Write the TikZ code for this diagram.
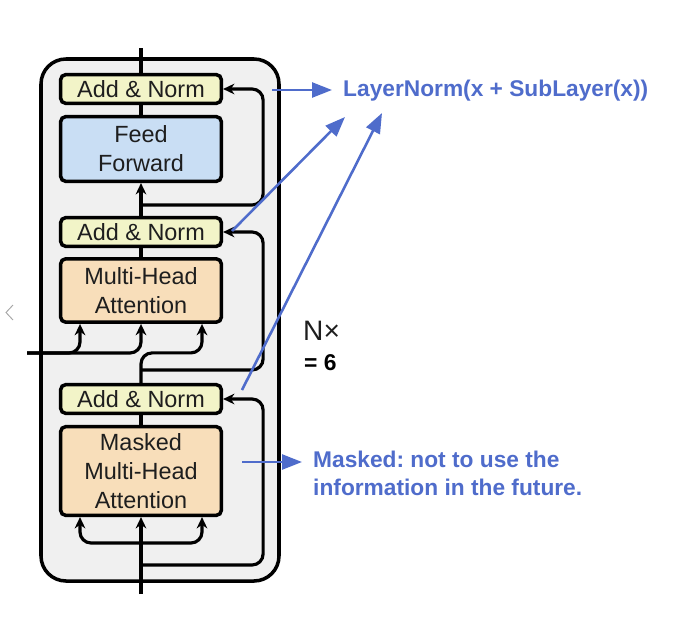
\documentclass[tikz,border=0pt]{standalone}
\usepackage{fontspec}
\setmainfont{Liberation Sans}
\frenchspacing
\usetikzlibrary{ arrows.meta, % For the arrow tips
                 calc,        % For shifted anchors
               }
\definecolor{normfill}{HTML}{F2F4C8}
\definecolor{fffill}{HTML}{C9DEF4}
\definecolor{attfill}{HTML}{F8DEBA}
\definecolor{stackfill}{HTML}{F0F0F0}
\definecolor{note}{HTML}{4F6CCB}
\definecolor{ink}{HTML}{1E1E1E}

\tikzstyle{block} = [rectangle, rounded corners=0.15cm, draw=black, line width=3pt, minimum width=4.82cm, text=ink, align=center, inner sep=0pt, font=\fontsize{20}{24.75}\selectfont]
\tikzstyle{norm} = [block, fill=normfill, minimum height=0.86cm]
\tikzstyle{ffbox} = [block, fill=fffill]
\tikzstyle{att} = [block, fill=attfill]
\tikzstyle{wire} = [line width=2.7pt]
\tikzstyle{flow} = [wire, -{Stealth[length=0.34cm, width=0.32cm]}, rounded corners=0.33cm]
\tikzstyle{stack} = [draw=black, fill=stackfill, line width=3pt, rounded corners=0.75cm]
\tikzstyle{pointer} = [draw=note, line width=2.2pt, -{Triangle[length=0.6cm, width=0.45cm]}]
\tikzstyle{remark} = [text=note, align=left, inner sep=0.33cm, font=\bfseries\fontsize{19.4}{23.9}\selectfont]

\begin{document}
\begin{tikzpicture}[x=0.03cm, y=-0.03cm]
  \useasboundingbox (0,0) rectangle (677,643);
  \draw [stack] (41,59) rectangle (279,581);

  \node (an1) [norm] at (141,89) {Add \& Norm};
  \node (ff) [ffbox, minimum height=1.94cm] at (141,149) {Feed\\Forward};
  \node (an2) [norm] at (141,232) {Add \& Norm};
  \node (mha) [att, minimum height=1.9cm] at (141,290.5) {Multi-Head\\Attention};
  \node (an3) [norm] at (141,399) {Add \& Norm};
  \node (mmha) [att, minimum height=2.66cm] at (141,471) {Masked\\Multi-Head\\Attention};

  \coordinate (dec_out) at (141,48);
  \coordinate (dec_enc) at (27,353);
  \coordinate (dec_in) at (141,594);
  \coordinate (s1) at (141,205);
  \coordinate (s2) at (141,370);
  \coordinate (s3) at (141,543);
  \coordinate (s4) at (141,565);

  % feed forward sub-layer
  \draw [wire] (an1.north) -- (dec_out);
  \draw [wire] (ff.north) -- (an1.south);
  \draw [flow] (an2.north) -- (ff.south);
  \draw [flow] (s1) -| ($(an1.east)+(40,0)$) -- (an1.east);

  % encoder-decoder attention
  \draw [wire] (mha.north) -- (an2.south);
  \draw [flow] (dec_enc) -| ($(mha.south)+(-61,0)$);
  \draw [flow] (dec_enc) -| (mha.south);
  \draw [flow] (an3.north) -- ++(0,-30) -| ($(mha.south)+(61,0)$);
  \draw [flow] (s2) -| ($(an2.east)+(40,0)$) -- (an2.east);

  % masked self attention
  \draw [wire] (mmha.north) -- (an3.south);
  \draw [flow] (dec_in) -- (mmha.south);
  \draw [flow] (s3) -| ($(mmha.south)+(-61,0)$);
  \draw [flow] (s3) -| ($(mmha.south)+(61,0)$);
  \draw [flow] (s4) -| ($(an3.east)+(40,0)$) -- (an3.east);

  \node (nx) [anchor=west, inner sep=0pt, text=ink, font=\fontsize{24}{24}\selectfont] at (303,331) {N×};
  \node (six) [anchor=west, inner sep=0pt, font=\bfseries\fontsize{19.5}{20}\selectfont] at (304,363) {= 6};

  % notes
  \node (sum) [remark, anchor=west] at (332,91) {LayerNorm(x + SubLayer(x))};
  \node (mask) [remark, anchor=west] at (302,473) {Masked: not to use the\\information in the future.};
  \coordinate (p1) at (272,90);
  \coordinate (p2) at (232,231);
  \coordinate (q2) at (345,117);
  \coordinate (p3) at (242,390);
  \coordinate (q3) at (382,113);
  \coordinate (p4) at (242,462);
  \draw [pointer] (p1) -- (p1 -| sum.west);
  \draw [pointer] (p2) -- (q2);
  \draw [pointer] (p3) -- (q3);
  \draw [pointer] (p4) -- (p4 -| mask.west);

  \draw [gray!70, line width=0.8pt] (13,305) -- (6,312.5) -- (13,320);
\end{tikzpicture}
\end{document}
